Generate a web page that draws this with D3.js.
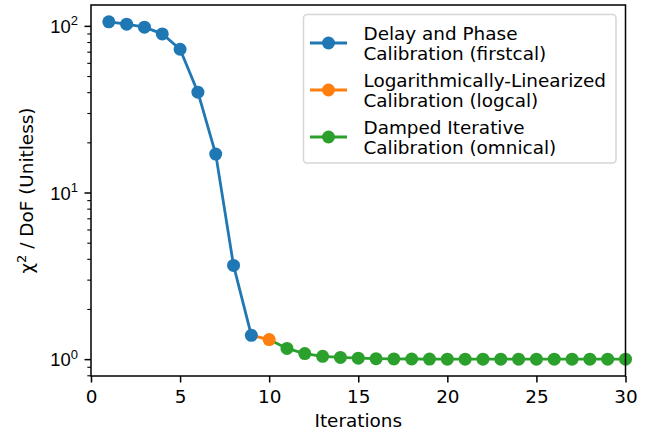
<!DOCTYPE html>
<html><head><meta charset="utf-8">
<script src="https://cdn.jsdelivr.net/npm/d3@7"></script>
<style>html,body{margin:0;padding:0;background:#fff;}svg{display:block;font-family:"DejaVu Sans",sans-serif;}</style>
</head><body><div id="chart"></div>
<script>
// Data
const firstcalIter = [1,2,3,4,5,6,7,8,9];
const firstcalChi2 = [105.7,102.4,98.2,89.5,72.4,40.0,17.0,3.65,1.39];
const logcalIter = [10];
const logcalChi2 = [1.31];
const omnicalIter = [11,12,13,14,15,16,17,18,19,20,21,22,23,24,25,26,27,28,29,30];
const omnicalChi2 = [1.16,1.08,1.04,1.024,1.014,1.006,1.003,1.002,1.001,1.0,1.0,1.0,1.0,1.0,1.0,1.0,1.0,1.0,1.0,1.0];
const seriesNames = ["Delay and Phase|Calibration (firstcal)","Logarithmically-Linearized|Calibration (logcal)","Damped Iterative|Calibration (omnical)"];
const seriesColors = ["#1f77b4","#ff7f0e","#2ca02c"];
const xTicks = [0,5,10,15,20,25,30];
const yMajor = [1,10,100];

const FS = 18.4, SUP = 13;
const W=660,H=432, L=91, R=625.5, T=5, B=376;
const svg = d3.select("#chart").append("svg").attr("width",W).attr("height",H);
const x = d3.scaleLinear().domain([0,30]).range([L,R]);
const yMin = Math.pow(10,-0.1012), yMax = Math.pow(10,2.1252);
const y = d3.scaleLog().domain([yMin,yMax]).range([B,T]);

// Series: each segment connects from previous series' last point
const s1 = firstcalIter.map((d,i)=>[d,firstcalChi2[i]]);
const s2 = logcalIter.map((d,i)=>[d,logcalChi2[i]]);
const s3 = omnicalIter.map((d,i)=>[d,omnicalChi2[i]]);
const lines = [s1, [s1[s1.length-1]].concat(s2), [s2[s2.length-1]].concat(s3)];
const marks = [s1, s2, s3];
const line = d3.line().x(d=>x(d[0])).y(d=>y(d[1]));
const g = svg.append("g");
lines.forEach((s,i)=>{
  g.append("path").attr("d",line(s)).attr("fill","none").attr("stroke",seriesColors[i]).attr("stroke-width",2.8).attr("stroke-linejoin","round").attr("stroke-linecap","butt");
});
marks.forEach((m,i)=>{
  g.selectAll(null).data(m).enter().append("circle")
    .attr("cx",d=>x(d[0])).attr("cy",d=>y(d[1])).attr("r",6.5).attr("fill",seriesColors[i]);
});

// Axes
const xAxis = svg.append("g").attr("transform",`translate(0,${B})`)
  .call(d3.axisBottom(x).tickValues(xTicks).tickSize(6.5).tickPadding(6.5).tickFormat(d3.format("d")));
xAxis.select(".domain").remove();
xAxis.selectAll("line").attr("stroke","#000").attr("stroke-width",1.5);
xAxis.selectAll("text").attr("font-size",FS).attr("fill","#000").attr("font-family","DejaVu Sans").attr("dy","0.74em");

const minor = [];
for (let e=-1;e<=2;e++) for (let k=2;k<=9;k++){const v=k*Math.pow(10,e); if(v>=yMin&&v<=yMax) minor.push(v);}
const yAxisMinor = svg.append("g").attr("transform",`translate(${L},0)`)
  .call(d3.axisLeft(y).tickValues(minor).tickSize(3.7).tickFormat(""));
yAxisMinor.select(".domain").remove();
yAxisMinor.selectAll("line").attr("stroke","#000").attr("stroke-width",1.1);
const yAxis = svg.append("g").attr("transform",`translate(${L},0)`)
  .call(d3.axisLeft(y).tickValues(yMajor).tickSize(6.5).tickPadding(6.5).tickFormat(""));
yAxis.select(".domain").remove();
yAxis.selectAll("line").attr("stroke","#000").attr("stroke-width",1.5);
yAxis.selectAll(".tick").each(function(d){
  const t = d3.select(this).append("text").attr("x",-13).attr("y",6.6).attr("text-anchor","end")
    .attr("font-size",FS).attr("fill","#000");
  t.append("tspan").text("10");
  t.append("tspan").attr("font-size",SUP).attr("dy",-7.5).text(String(Math.round(Math.log10(d))));
});

// Frame
svg.append("rect").attr("x",L).attr("y",T).attr("width",R-L).attr("height",B-T)
  .attr("fill","none").attr("stroke","#000").attr("stroke-width",1.5);

// Axis labels
svg.append("text").attr("x",(L+R)/2).attr("y",427).attr("text-anchor","middle").attr("font-size",FS).text("Iterations");
const yl = svg.append("text").attr("transform",`translate(33,${(T+B)/2}) rotate(-90)`).attr("text-anchor","middle").attr("font-size",FS);
yl.append("tspan").text("χ");
yl.append("tspan").attr("font-size",SUP).attr("dy",-7.5).text("2");
yl.append("tspan").attr("dy",7.5).text(" / DoF (Unitless)");

// Legend
const lg = svg.append("g");
lg.append("rect").attr("x",303.5).attr("y",14.5).attr("width",312.5).attr("height",148.5).attr("rx",3.5)
  .attr("fill","#fff").attr("fill-opacity",0.8).attr("stroke","#d6d6d6").attr("stroke-width",1.5);
const entryY = [43,90,137];
seriesNames.forEach((name,i)=>{
  const cy = entryY[i];
  lg.append("line").attr("x1",310).attr("x2",347).attr("y1",cy).attr("y2",cy).attr("stroke",seriesColors[i]).attr("stroke-width",2.8);
  lg.append("circle").attr("cx",328.5).attr("cy",cy).attr("r",6.5).attr("fill",seriesColors[i]);
  const parts = name.split("|");
  parts.forEach((p,j)=>{
    lg.append("text").attr("x",363.5).attr("y",cy-3.3+j*20.5).attr("font-size",FS).attr("fill","#000").text(p);
  });
});
</script></body></html>
